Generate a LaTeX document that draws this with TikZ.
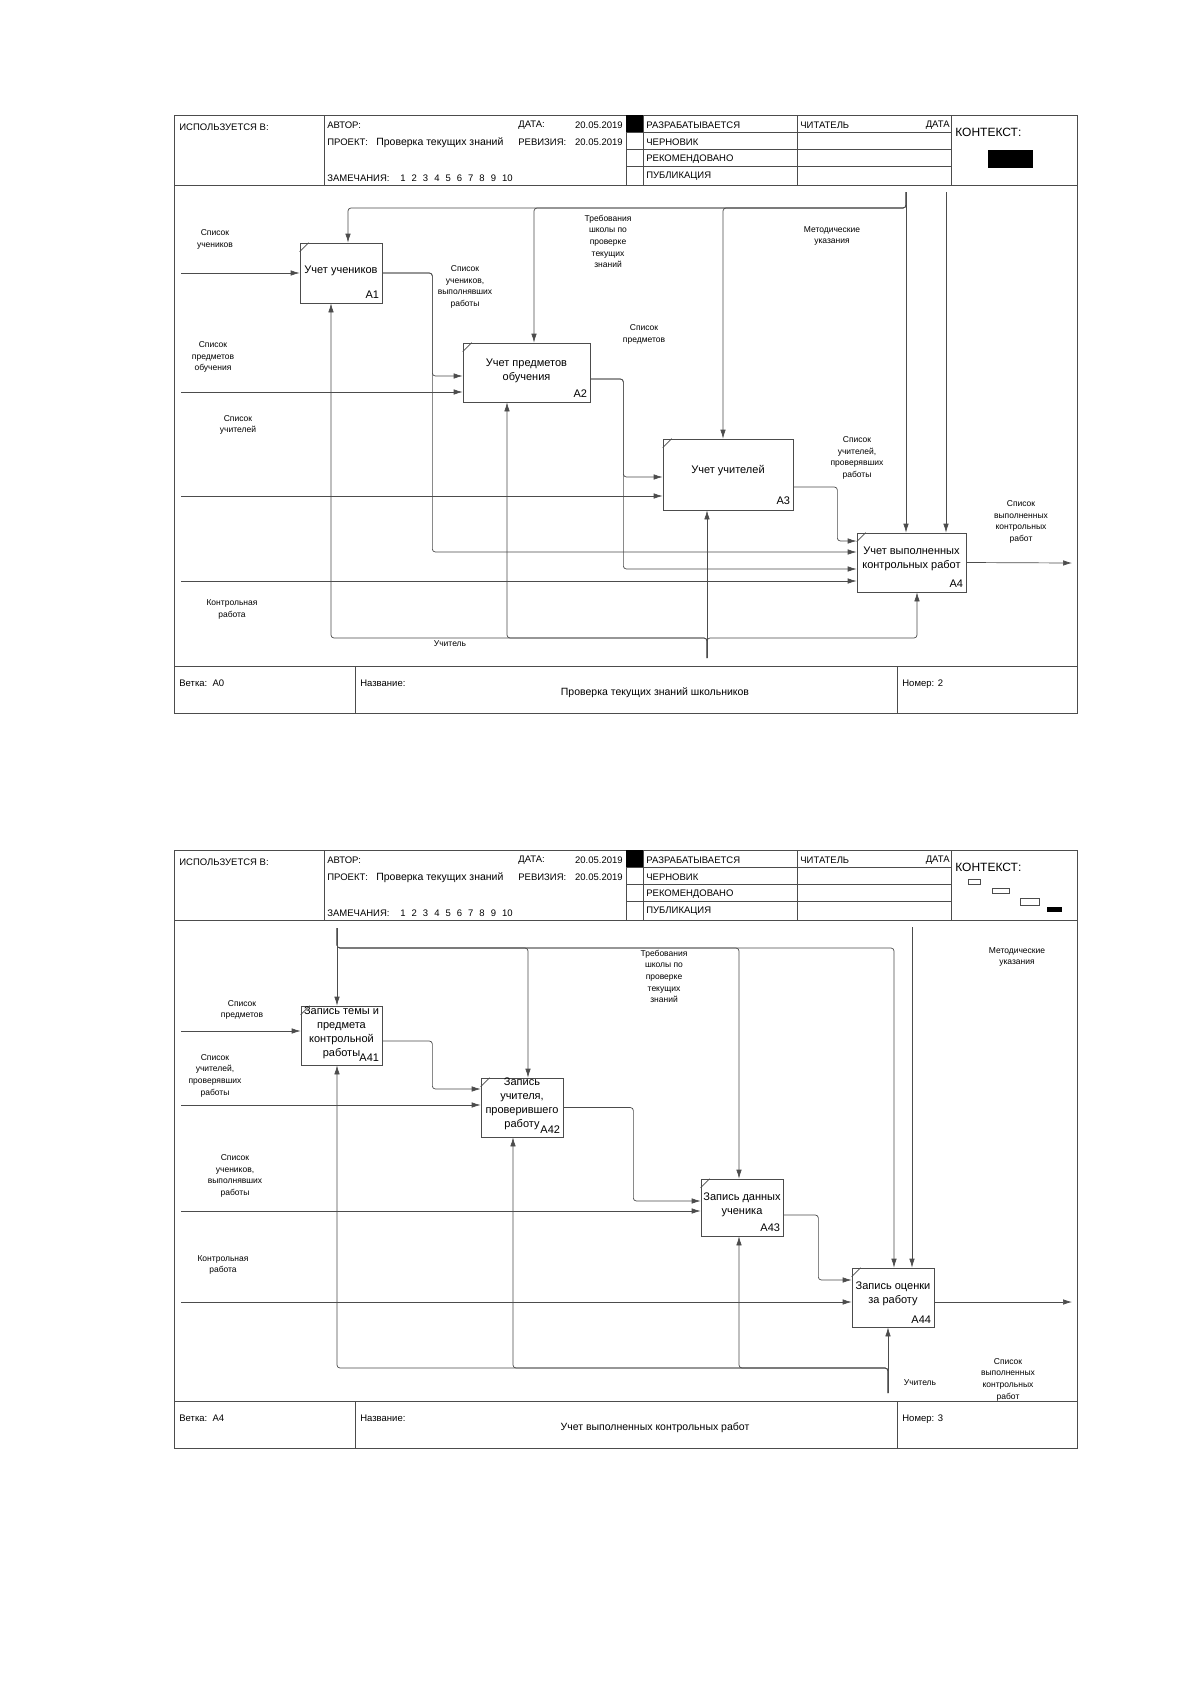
\documentclass[tikz,border=0pt]{standalone}
\usepackage{fontspec}
\setmainfont{Liberation Sans}
\usetikzlibrary{arrows.meta}

\begin{document}
\begin{tikzpicture}[x=1pt,y=-1pt,
>={Latex[length=9pt,width=5.5pt]},
line width=0.7pt,
every node/.style={inner sep=0pt},
hdr/.style={anchor=west, font=\fontsize{9.5}{11}\selectfont},
lbl/.style={align=center, font=\fontsize{8.5}{11.7}\selectfont},
btext/.style={align=center, font=\fontsize{11}{14}\selectfont},
bnum/.style={anchor=south east, font=\fontsize{11}{13}\selectfont}]
\tikzstyle{frame} = [draw=black!70]
\tikzstyle{fbox} = [draw=black!70, fill=white]
\tikzstyle{ar} = [->, draw=black!70, rounded corners=3pt]

\useasboundingbox (0,0) rectangle (1190,1684);
\fill[white] (0,0) rectangle (1190,1684);

% the two sheets: frame, header and footer
\foreach \dy/\br/\nm/\ttl in {115/A0/2/Проверка текущих знаний школьников, 850/A4/3/Учет выполненных контрольных работ}{
\begin{scope}[shift={(0,\dy)}]
\draw[frame] (174,0) rectangle (1077,598);
\draw[frame] (174,70) -- (1077,70);
\draw[frame] (174,551) -- (1077,551);
\draw[frame] (355,551) -- (355,598);
\draw[frame] (897,551) -- (897,598);
\foreach \x in {324,626,643,797,951} \draw[frame] (\x,0) -- (\x,70);
\foreach \y in {17,34,51} \draw[frame] (626,\y) -- (951,\y);
\fill (626,0) rectangle (643,17);
\node[hdr] (used\nm) at (179,12) {ИСПОЛЬЗУЕТСЯ В:};
\node[hdr] (author\nm) at (327,10) {АВТОР:};
\node[hdr] (date\nm) at (518,10) {ДАТА:};
\node[hdr, anchor=east] (dateval\nm) at (623,10) {20.05.2019};
\node[hdr] (proj\nm) at (327,27) {ПРОЕКТ:};
\node[hdr, font=\fontsize{10.5}{12}\selectfont] (projval\nm) at (376,28) {Проверка текущих знаний};
\node[hdr] (rev\nm) at (518,27) {РЕВИЗИЯ:};
\node[hdr, anchor=east] (revval\nm) at (623,27) {20.05.2019};
\node[hdr] (notes\nm) at (327,63) {ЗАМЕЧАНИЯ:};
\foreach \k in {1,...,10} \node[hdr] (note\nm-\k) at (400+11.3*\k-11.3,63) {\k};
\foreach \s [count=\i] in {РАЗРАБАТЫВАЕТСЯ, ЧЕРНОВИК, РЕКОМЕНДОВАНО, ПУБЛИКАЦИЯ}
  \node[hdr] (stat\nm-\i) at (646,17*\i-7) {\s};
\node[hdr] (reader\nm) at (800,10) {ЧИТАТЕЛЬ};
\node[hdr, anchor=east] (rdate\nm) at (950,10) {ДАТА};
\node[hdr, font=\fontsize{12}{14}\selectfont] (ctx\nm) at (955,17) {КОНТЕКСТ:};
\node[hdr] (branch\nm) at (179,568) {Ветка:\ \ \br};
\node[hdr] (name\nm) at (360,568) {Название:};
\node[font=\fontsize{10.5}{12}\selectfont] (title\nm) at (655,578) {\ttl};
\node[hdr] (num\nm) at (902,569) {Номер: \nm};
\end{scope}
}

% context marks
\fill (988,150) rectangle (1033,168);
\draw[frame] (968,879) rectangle (980,884);
\draw[frame] (992,888) rectangle (1009,893);
\draw[frame] (1020,898) rectangle (1039,905);
\fill (1047,907) rectangle (1062,912);

% sheet A0
\node[fbox, minimum width=82pt, minimum height=60pt] (A1) at (341,273) {};
\node[fbox, minimum width=127pt, minimum height=59pt] (A2) at (526.5,372.5) {};
\node[fbox, minimum width=130pt, minimum height=71pt] (A3) at (728,474.5) {};
\node[fbox, minimum width=109pt, minimum height=59pt] (A4) at (911.5,562.5) {};
\node[btext] (A1t) at ([yshift=2pt]A1.center) {Учет учеников};
\node[btext] (A2t) at ([yshift=2pt]A2.center) {Учет предметов\\обучения};
\node[btext] (A3t) at ([yshift=3.5pt]A3.center) {Учет учителей};
\node[btext] (A4t) at ([yshift=3.5pt]A4.center) {Учет выполненных\\контрольных работ};
\node[bnum] (A1n) at ([xshift=-3pt,yshift=5pt]A1.south east) {A1};
\node[bnum] (A2n) at ([xshift=-3pt,yshift=5pt]A2.south east) {A2};
\node[bnum] (A3n) at ([xshift=-3pt,yshift=5pt]A3.south east) {A3};
\node[bnum] (A4n) at ([xshift=-3pt,yshift=5pt]A4.south east) {A4};

\coordinate (inA1) at (181,273);
\draw[ar] (inA1) -- (A1.west);
\node[lbl] (lA1) at (215,239.5) {Список\\учеников};
\draw[ar] (A1.east) -- ++(50,0) |- ([yshift=-3.5pt]A2.west);
\draw[ar] (A1.east) -- ++(50,0) |- ([yshift=10.5pt]A4.west);
\node[lbl] (lA1o) at (465,287) {Список\\учеников,\\выполнявших\\работы};

\coordinate (inA2) at (181,392);
\draw[ar] (inA2) -- (inA2 -| A2.west);
\node[lbl] (lA2) at (213,357) {Список\\предметов\\обучения};
\draw[ar] ([yshift=-6.5pt]A2.east) -- ++(33,0) |- ([yshift=-2.5pt]A3.west);
\draw[ar] ([yshift=-6.5pt]A2.east) -- ++(33,0) |- ([yshift=-6.5pt]A4.west);
\node[lbl] (lA2o) at (644,334.5) {Список\\предметов};

\coordinate (inA3) at (181,496);
\draw[ar] (inA3) -- (inA3 -| A3.west);
\node[lbl] (lA3) at (238,425) {Список\\учителей};
\draw[ar] ([yshift=-12.5pt]A3.east) -- ++(44,0) |- ([yshift=21.5pt]A4.west);
\node[lbl] (lA3o) at (857,458) {Список\\учителей,\\проверявших\\работы};

\coordinate (inA4) at (181,581);
\draw[ar] (inA4) -- (inA4 -| A4.west);
\node[lbl] (lA4) at (232,609.5) {Контрольная\\работа};
\coordinate (outA4) at (1072,563);
\draw[ar] (A4.east) -- (outA4);
\node[lbl] (lA4o) at (1021,522) {Список\\выполненных\\контрольных\\работ};

\coordinate (ctlA) at (906,192);
\coordinate (ctlB) at (946,192);
\draw[ar] (ctlA) -- (ctlA |- A4.north);
\draw[ar] (ctlB) -- (ctlB |- A4.north);
\draw[ar] (ctlA) -- ++(0,16) -| ([xshift=7pt]A1.north);
\draw[ar] (ctlA) -- ++(0,16) -| ([xshift=7.5pt]A2.north);
\draw[ar] (ctlA) -- ++(0,16) -| ([xshift=-5pt]A3.north);
\node[lbl] (lctlA) at (832,236) {Методические\\указания};
\node[lbl] (lctlB) at (608,241.5) {Требования\\школы по\\проверке\\текущих\\знаний};

\coordinate (mech) at (707,658);
\draw[ar] (mech) -- (mech |- A3.south);
\draw[ar] (mech) -- ++(0,-20) -| ([xshift=-10pt]A1.south);
\draw[ar] (mech) -- ++(0,-20) -| ([xshift=-19.5pt]A2.south);
\draw[ar] (mech) -- ++(0,-20) -| ([xshift=5.5pt]A4.south);
\node[lbl] (lmech) at (450,644) {Учитель};

% sheet A4
\node[fbox, minimum width=81pt, minimum height=59pt] (A41) at (341.5,1035.5) {};
\node[fbox, minimum width=82pt, minimum height=59pt] (A42) at (522,1107.5) {};
\node[fbox, minimum width=82pt, minimum height=57pt] (A43) at (742,1207.5) {};
\node[fbox, minimum width=82pt, minimum height=59pt] (A44) at (893,1297.5) {};
\node[btext] (A41t) at ([yshift=3pt]A41.center) {Запись темы и\\предмета\\контрольной\\работы};
\node[btext] (A42t) at ([yshift=4pt]A42.center) {Запись\\учителя,\\проверившего\\работу};
\node[btext] (A43t) at ([yshift=3pt]A43.center) {Запись данных\\ученика};
\node[btext] (A44t) at ([yshift=3.5pt]A44.center) {Запись оценки\\за работу};
\node[bnum] (A41n) at ([xshift=-3pt,yshift=4pt]A41.south east) {A41};
\node[bnum] (A42n) at ([xshift=-3pt,yshift=4pt]A42.south east) {A42};
\node[bnum] (A43n) at ([xshift=-3pt,yshift=4pt]A43.south east) {A43};
\node[bnum] (A44n) at ([xshift=-3pt,yshift=4pt]A44.south east) {A44};

\foreach \b in {A1,A2,A3,A4,A41,A42,A43,A44}
  \draw[frame] ([yshift=-9pt]\b.north west) -- ([xshift=9pt]\b.north west);

\coordinate (ctlC) at (337,928);
\coordinate (ctlD) at (912,927);
\draw[ar] (ctlC) -- (ctlC |- A41.north);
\draw[ar] (ctlC) -- ++(0,20) -| ([xshift=6pt]A42.north);
\draw[ar] (ctlC) -- ++(0,20) -| ([xshift=-3pt]A43.north);
\draw[ar] (ctlC) -- ++(0,20) -| ([xshift=1pt]A44.north);
\draw[ar] (ctlD) -- (ctlD |- A44.north);
\node[lbl] (lctlC) at (664,976.5) {Требования\\школы по\\проверке\\текущих\\знаний};
\node[lbl] (lctlD) at (1017,957) {Методические\\указания};

\coordinate (inA41) at (181,1031);
\draw[ar] (inA41) -- (inA41 -| A41.west);
\node[lbl] (lA41) at (242,1010) {Список\\предметов};
\draw[ar] ([yshift=-5.5pt]A41.east) -- ++(50,0) |- ([yshift=18.5pt]A42.west);

\coordinate (inA42) at (181,1105);
\draw[ar] (inA42) -- (inA42 -| A42.west);
\node[lbl] (lA42) at (215,1075.5) {Список\\учителей,\\проверявших\\работы};
\draw[ar] (A42.east) -- ++(70,0) |- ([yshift=6.5pt]A43.west);

\coordinate (inA43) at (181,1211);
\draw[ar] (inA43) -- (inA43 -| A43.west);
\node[lbl] (lA43) at (235,1176) {Список\\учеников,\\выполнявших\\работы};
\draw[ar] ([yshift=-7.5pt]A43.east) -- ++(35,0) |- ([yshift=17.5pt]A44.west);

\coordinate (inA44) at (181,1302);
\draw[ar] (inA44) -- (inA44 -| A44.west);
\node[lbl] (lA44) at (223,1265) {Контрольная\\работа};
\coordinate (outA44) at (1072,1302);
\draw[ar] (outA44 -| A44.east) -- (outA44);
\node[lbl] (lA44o) at (1008,1379.5) {Список\\выполненных\\контрольных\\работ};

\coordinate (mechB) at (888,1393);
\draw[ar] (mechB) -- (mechB |- A44.south);
\draw[ar] (mechB) -- ++(0,-25) -| ([xshift=-3pt]A43.south);
\draw[ar] (mechB) -- ++(0,-25) -| ([xshift=-9pt]A42.south);
\draw[ar] (mechB) -- ++(0,-25) -| ([xshift=-4.5pt]A41.south);
\node[lbl] (lmechB) at (920,1383) {Учитель};

\end{tikzpicture}
\end{document}
